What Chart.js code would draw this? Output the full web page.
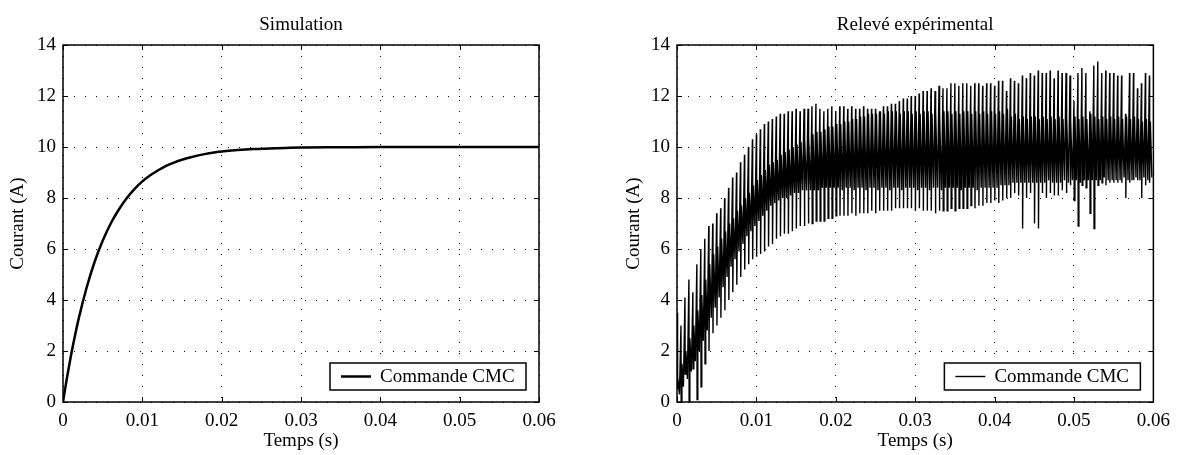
<!DOCTYPE html>
<html>
<head>
<meta charset="utf-8">
<title>Commande CMC - courant</title>
<script src="https://cdn.jsdelivr.net/npm/chart.js@4.4.1/dist/chart.umd.min.js"></script>
<style>
  html, body { margin: 0; padding: 0; background: #fff; }
  #wrap { position: relative; width: 1178px; height: 455px; }
  .panel { position: absolute; top: 0; width: 589px; height: 455px; }
  #panel-sim { left: 0; }
  #panel-exp { left: 589px; }
</style>
</head>
<body>
<div id="wrap">
  <div class="panel" id="panel-sim"><canvas id="chart-sim" width="589" height="455"></canvas></div>
  <div class="panel" id="panel-exp"><canvas id="chart-exp" width="589" height="455"></canvas></div>
</div>
<script>
// === axes ===
const xTicks = [0, 0.01, 0.02, 0.03, 0.04, 0.05, 0.06];
const xTickLabels = ["0", "0.01", "0.02", "0.03", "0.04", "0.05", "0.06"];
const yTicks = [0, 2, 4, 6, 8, 10, 12, 14];
const yTickLabels = ["0", "2", "4", "6", "8", "10", "12", "14"];
const legendLabel = "Commande CMC";

// === left panel: simulation ===
const simTime = [0, 0.0005, 0.001, 0.0015, 0.002, 0.003, 0.004, 0.005, 0.006, 0.007,
  0.008, 0.009, 0.010, 0.011, 0.012, 0.013, 0.014, 0.015, 0.016, 0.018,
  0.020, 0.022, 0.024, 0.026, 0.028, 0.030, 0.035, 0.040, 0.050, 0.060];
const simCurrent = [0, 0.95, 1.81, 2.59, 3.30, 4.51, 5.51, 6.32, 6.99, 7.53,
  7.98, 8.35, 8.65, 8.89, 9.09, 9.26, 9.39, 9.50, 9.59, 9.73,
  9.82, 9.88, 9.92, 9.94, 9.96, 9.98, 9.99, 10.0, 10.0, 10.0];

// === right panel: measurement, one value per switching cycle (0.5 ms) ===
// top of each spike
const spikeHigh = [
  3.5, 3.0, 4.1, 4.8, 4.3, 5.4, 6.0, 6.4, 6.9, 7.0,
  7.4, 7.6, 8.0, 8.4, 8.8, 9.0, 9.4, 9.7, 10.0, 10.3,
  10.5, 10.7, 10.9, 11.0, 11.1, 11.2, 11.3, 11.3, 11.4, 11.4,
  11.5, 11.4, 11.5, 11.5, 11.6, 11.7, 11.5, 11.4, 11.5, 11.6,
  11.4, 11.6, 11.6, 11.5, 11.6, 11.5, 11.5, 11.6, 11.5, 11.5,
  11.5, 11.4, 11.6, 11.6, 11.7, 11.7, 11.8, 11.9, 11.9, 12.0,
  12.0, 12.1, 12.2, 12.2, 12.3, 12.2, 12.4, 12.3, 12.3, 12.5,
  12.5, 12.4, 12.5, 12.5, 12.4, 12.5, 12.5, 12.4, 12.5, 12.5,
  12.4, 12.6, 12.6, 12.2, 12.7, 12.6, 12.5, 12.8, 12.7, 12.9,
  12.8, 13.0, 12.9, 12.9, 13.0, 12.7, 13.0, 12.9, 12.9, 12.8,
  11.8, 12.9, 13.1, 12.9, 11.4, 13.2, 13.35, 12.9, 13.0, 12.9,
  12.9, 12.8, 12.8, 11.3, 12.9, 12.9, 12.3, 12.5, 12.9, 12.8
];
// bottom of each spike
const spikeLow = [
  0.5, -0.3, 1.1, -0.3, 1.3, 0.1, 0.6, 1.5, 2.0, 2.7,
  3.0, 3.3, 3.6, 4.0, 4.3, 4.6, 4.9, 5.2, 5.4, 5.6,
  5.7, 5.8, 5.9, 6.1, 6.2, 6.4, 6.5, 6.6, 6.6, 6.7,
  6.8, 6.9, 6.9, 7.0, 7.0, 7.1, 7.1, 7.1, 7.2, 7.2,
  7.3, 7.3, 7.3, 7.3, 7.4, 7.3, 7.4, 7.4, 7.4, 7.5,
  7.4, 7.5, 7.5, 7.5, 7.5, 7.6, 7.6, 7.6, 7.6, 7.6,
  7.5, 7.6, 7.5, 7.5, 7.5, 7.4, 7.5, 7.5, 7.5, 7.6,
  7.5, 7.6, 7.6, 7.6, 7.7, 7.6, 7.7, 7.7, 7.8, 7.8,
  7.9, 7.8, 7.9, 8.0, 8.0, 8.2, 8.1, 6.8, 8.0, 8.2,
  7.0, 6.8, 8.2, 8.0, 8.2, 8.1, 8.1, 8.3, 8.2, 8.5,
  7.9, 6.9, 8.5, 8.4, 7.4, 6.8, 8.5, 8.6, 8.5, 8.6,
  8.6, 8.6, 8.6, 8.0, 8.6, 8.7, 8.7, 8.0, 8.5, 8.6
];
// upper edge of the dense ripple band
const bandHigh = [
  1.0, 1.5, 2.0, 2.5, 3.0, 3.6, 4.2, 4.8, 5.4, 5.8,
  6.1, 6.4, 6.7, 7.0, 7.2, 7.5, 7.7, 8.0, 8.2, 8.5,
  8.7, 8.9, 9.1, 9.3, 9.4, 9.5, 9.7, 9.8, 9.9, 10.0,
  10.1, 10.2, 10.3, 10.4, 10.5, 10.6, 10.6, 10.7, 10.8, 10.8,
  10.9, 10.9, 11.0, 11.0, 11.1, 11.1, 11.2, 11.2, 11.3, 11.3,
  11.3, 11.4, 11.3, 11.4, 11.4, 11.4, 11.3, 11.4, 11.4, 11.3,
  11.4, 11.3, 11.4, 11.4, 11.3, 11.4, 11.3, 11.4, 11.4, 11.3,
  11.4, 11.3, 11.4, 11.4, 11.3, 11.4, 11.3, 11.4, 11.3, 11.4,
  11.3, 11.4, 11.3, 11.5, 11.2, 11.3, 11.1, 11.2, 11.1, 11.2,
  11.2, 11.1, 11.2, 11.1, 11.2, 11.1, 11.2, 11.1, 11.2, 11.1,
  11.2, 11.1, 11.2, 11.1, 11.3, 11.2, 11.1, 11.2, 11.1, 11.2,
  11.1, 11.2, 11.1, 11.2, 11.1, 11.2, 11.1, 11.0, 11.1, 11.0
];
// lower edge of the dense ripple band
const bandLow = [
  0.3, 0.6, 0.9, 1.2, 1.6, 2.0, 2.4, 2.8, 3.3, 3.7,
  4.1, 4.5, 4.9, 5.3, 5.6, 5.9, 6.2, 6.5, 6.7, 6.9,
  7.1, 7.3, 7.5, 7.7, 7.8, 7.9, 8.0, 8.0, 8.1, 8.2,
  8.2, 8.3, 8.3, 8.3, 8.3, 8.3, 8.4, 8.4, 8.4, 8.4,
  8.4, 8.3, 8.4, 8.4, 8.3, 8.4, 8.4, 8.3, 8.4, 8.4,
  8.3, 8.4, 8.4, 8.3, 8.4, 8.4, 8.3, 8.4, 8.4, 8.4,
  8.3, 8.4, 8.4, 8.3, 8.4, 8.4, 8.3, 8.4, 8.4, 8.4,
  8.4, 8.3, 8.4, 8.4, 8.4, 8.3, 8.4, 8.4, 8.4, 8.4,
  8.4, 8.5, 8.5, 8.5, 8.6, 8.6, 8.6, 8.6, 8.6, 8.6,
  8.6, 8.6, 8.6, 8.7, 8.6, 8.6, 8.6, 8.7, 8.6, 8.7,
  8.7, 8.6, 8.7, 8.7, 8.7, 8.7, 8.7, 8.8, 8.7, 8.7,
  8.7, 8.7, 8.8, 8.7, 8.7, 8.8, 8.7, 8.8, 8.7, 8.8
];
const cyclePeriod = 0.0005;
// where in a cycle each of the four samples falls: spike top, spike bottom, band top, band bottom
const cycleOffsets = [0, 0.00003, 0.00012, 0.00031];

// === build point lists ===
const simPoints = simTime.map((t, i) => ({ x: t, y: simCurrent[i] }));

const expPoints = [];
spikeHigh.forEach((hi, k) => {
  const t0 = k * cyclePeriod;
  [hi, spikeLow[k], bandHigh[k], bandLow[k]].forEach((v, j) => {
    expPoints.push({ x: t0 + cycleOffsets[j], y: v });
  });
});

// === matlab-like box, inward ticks, title and boxed legend ===
const matlabFrame = {
  id: "matlabFrame",
  afterDraw(chart, args, opts) {
    const { ctx, chartArea: a, scales } = chart;
    const xs = scales.x, ys = scales.y;
    ctx.save();
    ctx.strokeStyle = "#000";
    ctx.lineWidth = 1;
    ctx.beginPath();
    xs.ticks.forEach((t) => {
      const px = Math.round(xs.getPixelForValue(t.value)) + 0.5;
      ctx.moveTo(px, a.bottom); ctx.lineTo(px, a.bottom - 5);
      ctx.moveTo(px, a.top); ctx.lineTo(px, a.top + 5);
    });
    ys.ticks.forEach((t) => {
      const py = Math.round(ys.getPixelForValue(t.value)) + 0.5;
      ctx.moveTo(a.left, py); ctx.lineTo(a.left + 5, py);
      ctx.moveTo(a.right, py); ctx.lineTo(a.right - 5, py);
    });
    ctx.stroke();

    ctx.lineWidth = 1.5;
    ctx.strokeRect(a.left, a.top, a.right - a.left, a.bottom - a.top);

    ctx.fillStyle = "#000";
    ctx.font = '19px "Liberation Serif", "DejaVu Serif", serif';
    ctx.textAlign = "center";
    ctx.textBaseline = "middle";
    ctx.fillText(opts.title, (a.left + a.right) / 2, 25);

    // legend box in the lower right corner
    const ds = chart.data.datasets[0];
    const bw = 196, bh = 27;
    const bx = a.right - 13 - bw, by = a.bottom - 12 - bh;
    ctx.fillStyle = "#fff";
    ctx.fillRect(bx, by, bw, bh);
    ctx.lineWidth = 1.5;
    ctx.strokeRect(bx, by, bw, bh);
    const cy = by + bh / 2;
    ctx.lineWidth = ds.borderWidth;
    ctx.beginPath();
    ctx.moveTo(bx + 11, cy); ctx.lineTo(bx + 41, cy);
    ctx.stroke();
    ctx.fillStyle = "#000";
    ctx.textAlign = "left";
    ctx.fillText(ds.label, bx + 50, cy + 1);
    ctx.restore();
  }
};

Chart.defaults.font.family = '"Liberation Serif", "DejaVu Serif", serif';
Chart.defaults.font.size = 19;
Chart.defaults.color = "#000";

function makeChart(canvasId, cfg) {
  return new Chart(document.getElementById(canvasId), {
    type: "line",
    data: {
      datasets: [{
        label: legendLabel,
        data: cfg.points,
        borderColor: "#000",
        borderWidth: cfg.lineWidth,
        pointRadius: 0,
        fill: false,
        tension: 0,
        cubicInterpolationMode: cfg.smooth ? "monotone" : "default"
      }]
    },
    options: {
      responsive: false,
      animation: false,
      devicePixelRatio: 1,
      layout: { padding: { top: 45, right: cfg.padRight, bottom: 0, left: 0 } },
      scales: {
        x: {
          type: "linear",
          min: 0,
          max: 0.06,
          afterBuildTicks: (s) => { s.ticks = xTicks.map((v) => ({ value: v })); },
          afterFit: (s) => { s.height = 53; },
          ticks: {
            callback: (v, i) => xTickLabels[i],
            padding: 8,
            maxRotation: 0,
            autoSkip: false
          },
          grid: { color: "#000", lineWidth: 1, drawTicks: false },
          border: { display: false, dash: [1, 10] },
          title: { display: true, text: "Temps (s)", padding: { top: 0, bottom: 3 } }
        },
        y: {
          min: 0,
          max: 14,
          afterBuildTicks: (s) => { s.ticks = yTicks.map((v) => ({ value: v })); },
          afterFit: (s) => { s.width = cfg.yWidth; },
          ticks: {
            callback: (v, i) => yTickLabels[i],
            padding: 7,
            autoSkip: false
          },
          grid: { color: "#000", lineWidth: 1, drawTicks: false },
          border: { display: false, dash: [1, 10] },
          title: { display: true, text: "Courant (A)", padding: { top: cfg.yTitlePad, bottom: 0 } }
        }
      },
      plugins: {
        legend: { display: false },
        tooltip: { enabled: false },
        matlabFrame: { title: cfg.title }
      }
    },
    plugins: [matlabFrame]
  });
}

makeChart("chart-sim", {
  points: simPoints, lineWidth: 2.5, smooth: true,
  title: "Simulation", padRight: 50, yWidth: 63, yTitlePad: 7
});
makeChart("chart-exp", {
  points: expPoints, lineWidth: 1.4, smooth: false,
  title: "Relevé expérimental", padRight: 24, yWidth: 88, yTitlePad: 34
});
</script>
</body>
</html>
